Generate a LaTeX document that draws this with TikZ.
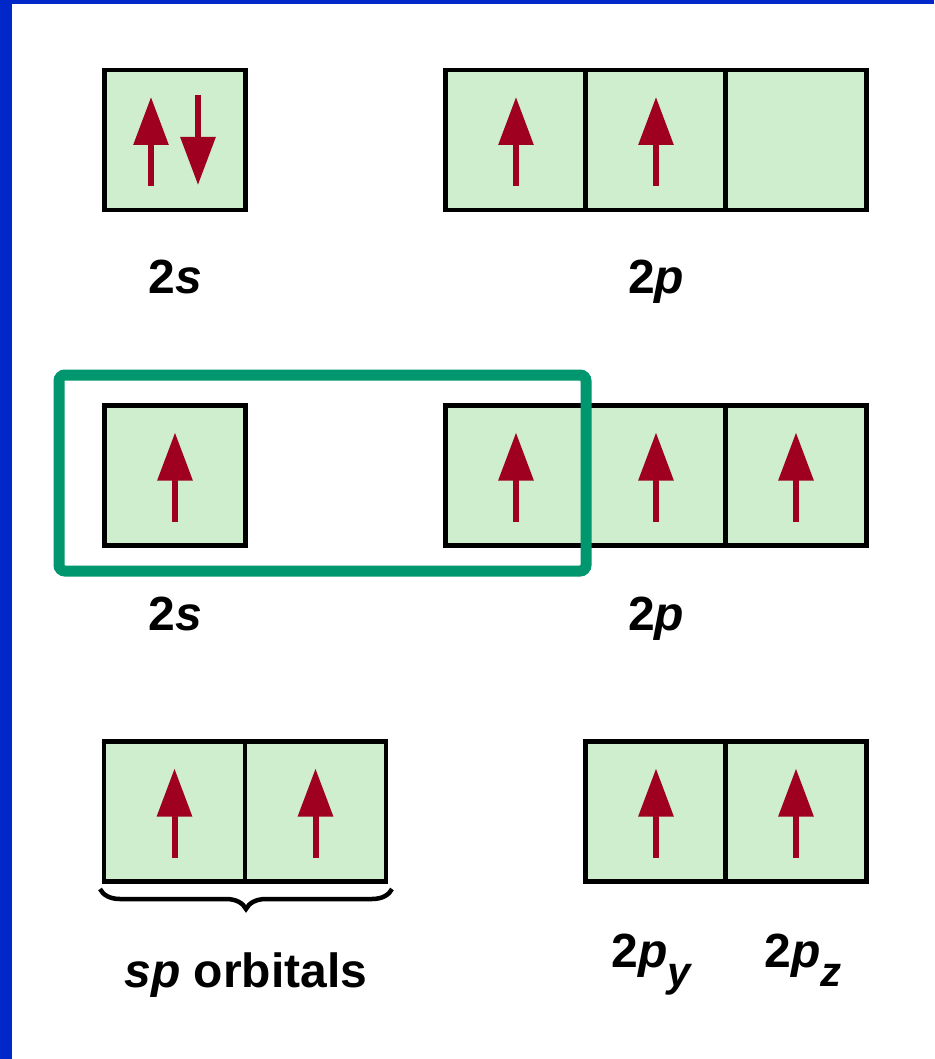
\documentclass[tikz,border=0pt]{standalone}
\usepackage{fontspec}
\setmainfont{Liberation Sans}
\usetikzlibrary{arrows.meta,calc,decorations.pathreplacing}
\definecolor{orbfill}{RGB}{206,238,206}
\definecolor{spinred}{RGB}{160,0,32}
\definecolor{hlgreen}{RGB}{0,150,110}
\definecolor{edgeblue}{RGB}{0,40,200}
\newcommand\spinup[2]{\draw[spin] ($(#1.center)+(#2,46)$) -- ($(#1.center)+(#2,-43)$);}
\newcommand\spindown[2]{\draw[spin] ($(#1.center)+(#2,-45)$) -- ($(#1.center)+(#2,45)$);}
\begin{document}
\begin{tikzpicture}[x=1pt,y=-1pt,
  orb/.style={rectangle,draw=black,fill=orbfill,line width=4.5pt,minimum width=141pt,minimum height=140pt,inner sep=0pt},
  spin/.style={draw=spinred,line width=6pt,-{Triangle[length=48pt,width=34pt]}},
  lbl/.style={anchor=base,inner sep=0pt,font=\fontsize{48}{54}\selectfont\bfseries}]
\useasboundingbox (0,0) rectangle (934,1059);
\fill[white] (0,0) rectangle (934,1059);
\fill[edgeblue] (0,0) rectangle (12,1059);
\fill[edgeblue] (0,0) rectangle (934,4);
% row 1
\node[orb] (a1) at (175,140) {};
\node[orb] (a2) at (516,140) {};
\node[orb] (a3) at (656,140) {};
\node[orb] (a4) at (796,140) {};
\spinup{a1}{-24}
\spindown{a1}{23}
\spinup{a2}{0}
\spinup{a3}{0}
% row 2
\node[orb] (b1) at (175,475.5) {};
\node[orb] (b2) at (516,475.5) {};
\node[orb] (b3) at (656,475.5) {};
\node[orb] (b4) at (796,475.5) {};
\spinup{b1}{0}
\spinup{b2}{0}
\spinup{b3}{0}
\spinup{b4}{0}
% row 3
\node[orb] (c1) at (174.5,811.5) {};
\node[orb] (c2) at (315.5,811.5) {};
\node[orb] (c3) at (656,811.5) {};
\node[orb] (c4) at (796,811.5) {};
\spinup{c1}{0}
\spinup{c2}{0}
\spinup{c3}{0}
\spinup{c4}{0}
% highlight
\draw[hlgreen,line width=11pt,rounded corners=6pt] (59,375) rectangle (586,571);
% brace
\coordinate (bl) at (100,889);
\coordinate (br) at (392,889);
\draw[line width=4.5pt,decorate,decoration={brace,mirror,amplitude=20pt}] (bl) -- (br);
% labels
\node[lbl] (l1) at (175,293) {2\textit{s}};
\node[lbl] (l2) at (656,293) {2\textit{p}};
\node[lbl] (l3) at (175,630) {2\textit{s}};
\node[lbl] (l4) at (656,630) {2\textit{p}};
\node[lbl] (l5) at (246,987) {\textit{sp} orbitals};
\node[lbl] (l6) at (652,967) {2\textit{p}\raisebox{-0.4em}{\fontsize{42}{46}\selectfont\textit{y}}};
\node[lbl] (l7) at (803,967) {2\textit{p}\raisebox{-0.4em}{\fontsize{42}{46}\selectfont\textit{z}}};
\end{tikzpicture}
\end{document}
